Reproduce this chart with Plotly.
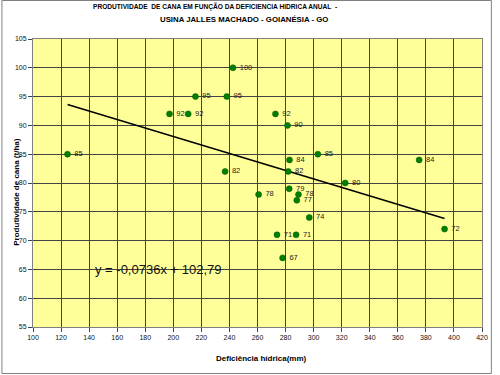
import plotly.graph_objects as go

deficiencia = [124.6, 242.5, 215.8, 238.1, 197.3, 210.6, 236.9, 260.8, 272.8, 281.4,
               303.0, 282.8, 375.2, 281.9, 322.5, 282.6, 289.2, 288.0, 296.9, 273.9,
               287.5, 277.9, 393.3]
produtividade = [85, 100, 95, 95, 92, 92, 82, 78, 92, 90,
                 85, 84, 84, 82, 80, 79, 78, 77, 74, 71,
                 71, 67, 72]
trend_slope = -0.0736
trend_intercept = 102.79
x_ticks = list(range(100, 421, 20))
y_ticks = list(range(55, 106, 5))

FONT = "Liberation Sans, Arial, sans-serif"

fig = go.Figure()

xmin, xmax = min(deficiencia), max(deficiencia)
fig.add_trace(go.Scatter(
    x=[xmin, xmax],
    y=[trend_slope * xmin + trend_intercept, trend_slope * xmax + trend_intercept],
    mode="lines", line=dict(color="black", width=1.5), hoverinfo="skip", showlegend=False))

fig.add_trace(go.Scatter(
    x=deficiencia, y=produtividade, mode="markers+text",
    text=[" " + str(v) for v in produtividade], textposition="middle right",
    textfont=dict(family=FONT, size=7.5, color="#222222"),
    marker=dict(color="#008000", size=6, line=dict(color="#005000", width=0.5)),
    showlegend=False))

fig.update_layout(
    width=500, height=375,
    margin=dict(l=33, r=12, t=39, b=48),
    paper_bgcolor="white", plot_bgcolor="#FFFF99",
    font=dict(family=FONT, size=7, color="black"),
    showlegend=False,
    xaxis=dict(range=[100, 420], tickvals=x_ticks, showgrid=True, gridcolor="#444444",
               gridwidth=1, zeroline=False, showline=True, linecolor="#808080", linewidth=1,
               mirror=True, ticks="outside", ticklen=4, tickcolor="#444444",
               tickfont=dict(size=7, family=FONT, color="#111111")),
    yaxis=dict(range=[55, 105], tickvals=y_ticks, showgrid=True, gridcolor="#444444",
               gridwidth=1, zeroline=False, showline=True, linecolor="#808080", linewidth=1,
               mirror=True, ticks="outside", ticklen=4, tickcolor="#444444",
               tickfont=dict(size=7, family=FONT, color="#111111")),
)

annotations = [
    dict(text="<b>PRODUTIVIDADE  DE CANA EM FUNÇÃO DA DEFICIENCIA HIDRICA ANUAL  -</b>",
         xref="paper", yref="paper", x=(217 - 33) / 455, y=(327 - 7) / 288,
         xanchor="center", yanchor="middle", showarrow=False, font=dict(size=6.6, family=FONT)),
    dict(text="<b>USINA JALLES MACHADO - GOIANÉSIA - GO</b>",
         xref="paper", yref="paper", x=(247 - 33) / 455, y=(327 - 19) / 288,
         xanchor="center", yanchor="middle", showarrow=False, font=dict(size=7.8, family=FONT)),
    dict(text="<b>Deficiência hídrica(mm)</b>",
         xref="paper", yref="paper", x=(265 - 33) / 455, y=(327 - 358) / 288,
         xanchor="center", yanchor="middle", showarrow=False, font=dict(size=8, family=FONT)),
    dict(text="<b>Produtividade de cana (t/ha)</b>", textangle=-90,
         xref="paper", yref="paper", x=(15.5 - 33) / 455, y=(327 - 192) / 288,
         xanchor="center", yanchor="middle", showarrow=False, font=dict(size=8, family=FONT)),
    dict(text="y = -0,0736x + 102,79",
         xref="paper", yref="paper", x=(160 - 33) / 455, y=(327 - 269) / 288,
         xanchor="center", yanchor="middle", showarrow=False, font=dict(size=13, family=FONT, color="#111111")),
]
fig.update_layout(annotations=annotations)

fig.add_shape(type="rect", xref="paper", yref="paper",
              x0=(1.5 - 33) / 455, x1=(497.5 - 33) / 455,
              y0=(327 - 373.5) / 288, y1=(327 - 0.5) / 288,
              line=dict(color="#808080", width=1), fillcolor="rgba(0,0,0,0)", layer="below")

fig.write_html("out.html", config={"displayModeBar": False},
               post_script="document.body.style.margin='0';document.body.style.padding='0';")
